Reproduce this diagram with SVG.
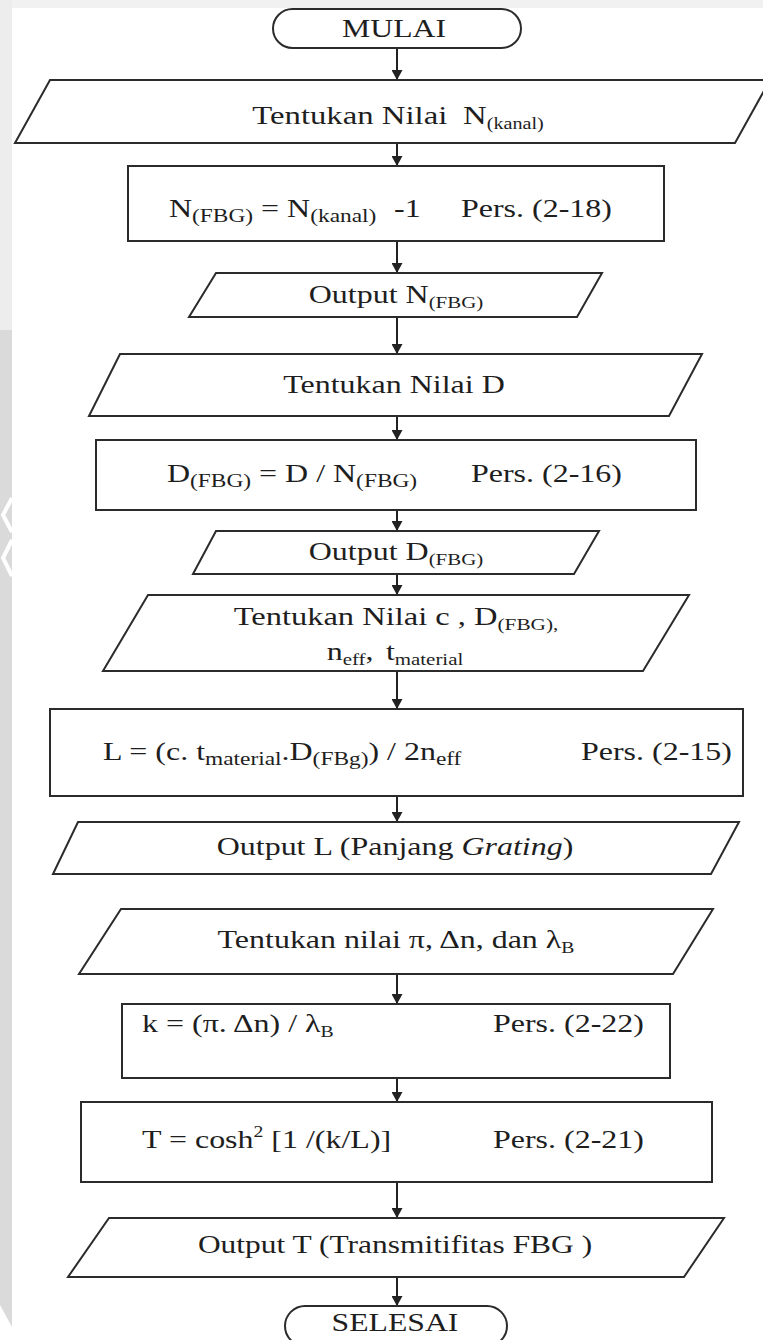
<svg xmlns="http://www.w3.org/2000/svg" width="763" height="1340" viewBox="0 0 763 1340">
  <style>
    .shape { fill: #ffffff; stroke: #2b2b2b; stroke-width: 2; }
    .link { fill: none; stroke: #222222; stroke-width: 2; marker-end: url(#arrow); }
    text { font-family: "Liberation Serif", "Times New Roman", serif; font-size: 26px; fill: #1e1e1e; }
    .sub { font-size: 19px; }
    .subs { font-size: 17px; }
    .subxs { font-size: 16px; }
    .it { font-style: italic; }
  </style>
  <defs>
    <marker id="arrow" markerUnits="userSpaceOnUse" markerWidth="11" markerHeight="11" refX="10" refY="5.5" orient="auto">
      <path d="M0,0 L10,5.5 L0,11 z" fill="#222222"/>
    </marker>
  </defs>

  <!-- page background with faint side band -->
  <rect x="0" y="0" width="763" height="1340" fill="#ffffff"/>
  <rect x="0" y="0" width="763" height="8" fill="#f1f1f1"/>
  <polygon points="0,0 12,0 12,330 0,330" fill="#ededed"/>
  <polygon points="0,330 12,330 12,1327 0,1305" fill="#dadada"/>
  <polyline points="12,498 3,515 12,532" fill="none" stroke="#ffffff" stroke-width="4"/>
  <polyline points="12,540 3,558 12,576" fill="none" stroke="#ffffff" stroke-width="4"/>

  <!-- connectors -->
  <g id="connectors">
    <line class="link" x1="397" y1="48" x2="397" y2="80"/>
    <line class="link" x1="397" y1="143" x2="397" y2="166"/>
    <line class="link" x1="397" y1="241" x2="397" y2="273"/>
    <line class="link" x1="397" y1="317" x2="397" y2="354"/>
    <line class="link" x1="397" y1="416" x2="397" y2="440"/>
    <line class="link" x1="397" y1="510" x2="397" y2="531"/>
    <line class="link" x1="397" y1="574" x2="397" y2="595"/>
    <line class="link" x1="397" y1="671" x2="397" y2="709"/>
    <line class="link" x1="397" y1="796" x2="397" y2="822"/>
    <line class="link" x1="397" y1="974" x2="397" y2="1004"/>
    <line class="link" x1="397" y1="1078" x2="397" y2="1102"/>
    <line class="link" x1="397" y1="1182" x2="397" y2="1218"/>
    <line class="link" x1="397" y1="1277" x2="397" y2="1306"/>
  </g>

  <g id="mulai">
    <rect class="shape" x="273" y="9" width="248" height="39" rx="19.5"/>
    <text transform="translate(394,37) scale(1.22,1)" text-anchor="middle">MULAI</text>
  </g>

  <g id="input-kanal">
    <polygon class="shape" points="50,80 770,80 735,143 15,143"/>
    <text transform="translate(398,124) scale(1.26,1)" text-anchor="middle">Tentukan Nilai <tspan dx="6">N</tspan><tspan class="subxs" dy="5">(kanal)</tspan></text>
  </g>

  <g id="calc-nfbg">
    <rect class="shape" x="128" y="166" width="536" height="75"/>
    <text transform="translate(169,217) scale(1.23,1)">N<tspan class="sub" dy="5">(FBG)</tspan><tspan dy="-5"> = N</tspan><tspan class="sub" dy="5">(kanal)</tspan><tspan dy="-5" dx="8"> -1</tspan></text>
    <text transform="translate(461,217) scale(1.23,1)">Pers. (2-18)</text>
  </g>

  <g id="output-nfbg">
    <polygon class="shape" points="216,273 602,273 577,317 189,317"/>
    <text transform="translate(396,303) scale(1.23,1)" text-anchor="middle">Output N<tspan class="subs" dy="5">(FBG)</tspan></text>
  </g>

  <g id="input-d">
    <polygon class="shape" points="120,354 702,354 669,416 89,416"/>
    <text transform="translate(394,393) scale(1.23,1)" text-anchor="middle">Tentukan Nilai D</text>
  </g>

  <g id="calc-dfbg">
    <rect class="shape" x="96" y="440" width="600" height="70"/>
    <text transform="translate(167,482) scale(1.23,1)">D<tspan class="sub" dy="5">(FBG)</tspan><tspan dy="-5"> = D / N</tspan><tspan class="sub" dy="5">(FBG)</tspan></text>
    <text transform="translate(471,482) scale(1.23,1)">Pers. (2-16)</text>
  </g>

  <g id="output-dfbg">
    <polygon class="shape" points="216,531 599,531 574,574 193,574"/>
    <text transform="translate(396,560) scale(1.23,1)" text-anchor="middle">Output D<tspan class="subs" dy="5">(FBG)</tspan></text>
  </g>

  <g id="input-params">
    <polygon class="shape" points="148,595 689,595 643,671 103,671"/>
    <text transform="translate(396,625) scale(1.25,1)" text-anchor="middle">Tentukan Nilai c , D<tspan class="subs" dy="5">(FBG),</tspan></text>
    <text transform="translate(395,660) scale(1.23,1)" text-anchor="middle">n<tspan class="subs" dy="5">eff</tspan><tspan dy="-5">,</tspan><tspan dx="10">t</tspan><tspan class="subs" dy="5">material</tspan></text>
  </g>

  <g id="calc-l">
    <rect class="shape" x="50" y="709" width="693" height="87"/>
    <text transform="translate(103,760) scale(1.23,1)">L = (c. t<tspan class="sub" dy="5">material</tspan><tspan dy="-5">.D</tspan><tspan class="sub" dy="5">(FBg)</tspan><tspan dy="-5">) / 2n</tspan><tspan class="sub" dy="5">eff</tspan></text>
    <text transform="translate(581,760) scale(1.23,1)">Pers. (2-15)</text>
  </g>

  <g id="output-l">
    <polygon class="shape" points="78,822 739,822 711,874 53,874"/>
    <text transform="translate(395,855) scale(1.23,1)" text-anchor="middle">Output L (Panjang <tspan class="it">Grating</tspan>)</text>
  </g>

  <g id="input-kappa">
    <polygon class="shape" points="121,909 713,909 673,974 79,974"/>
    <text transform="translate(396,948) scale(1.23,1)" text-anchor="middle">Tentukan nilai π, Δn, dan λ<tspan class="subxs" dy="5">B</tspan></text>
  </g>

  <g id="calc-k">
    <rect class="shape" x="122" y="1004" width="548" height="74"/>
    <text transform="translate(142,1032) scale(1.23,1)">k = (π. Δn) / λ<tspan class="subxs" dy="5">B</tspan></text>
    <text transform="translate(493,1032) scale(1.23,1)">Pers. (2-22)</text>
  </g>

  <g id="calc-t">
    <rect class="shape" x="81" y="1102" width="631" height="80"/>
    <text transform="translate(142,1148) scale(1.23,1)">T = cosh<tspan class="subxs" dy="-11">2</tspan><tspan dy="11"> [1 /(k/L)]</tspan></text>
    <text transform="translate(493,1148) scale(1.23,1)">Pers. (2-21)</text>
  </g>

  <g id="output-t">
    <polygon class="shape" points="109,1218 724,1218 684,1277 68,1277"/>
    <text transform="translate(395,1253) scale(1.21,1)" text-anchor="middle">Output T (Transmitifitas FBG )</text>
  </g>

  <g id="selesai">
    <rect class="shape" x="285" y="1306" width="222" height="40" rx="20"/>
    <text transform="translate(395,1331) scale(1.22,1)" text-anchor="middle">SELESAI</text>
  </g>
</svg>
